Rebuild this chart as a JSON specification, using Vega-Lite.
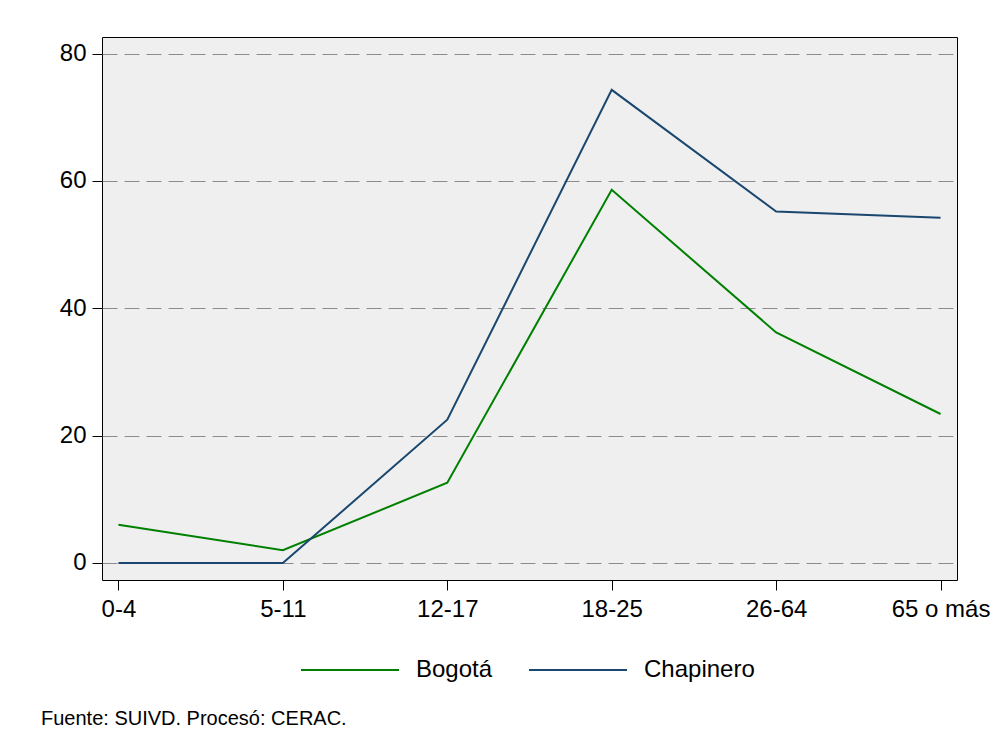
{
  "$schema": "https://vega.github.io/schema/vega-lite/v6.json",
  "autosize": "none",
  "width": 855,
  "height": 543,
  "padding": {"left": 102, "top": 37, "right": 38, "bottom": 169},
  "background": "white",
  "config": {
    "font": "Liberation Sans",
    "view": {"fill": "#efefef", "stroke": "black", "strokeWidth": 1}
  },
  "title": {
    "text": "Fuente: SUIVD. Procesó: CERAC.",
    "orient": "bottom",
    "anchor": "start",
    "frame": "group",
    "dx": -61,
    "offset": 27,
    "fontSize": 20,
    "fontWeight": "normal",
    "color": "black",
    "font": "Liberation Sans"
  },
  "data": {
    "values": [
      {"edad": "0-4", "serie": "Bogotá", "tasa": 6.0},
      {"edad": "5-11", "serie": "Bogotá", "tasa": 2.0},
      {"edad": "12-17", "serie": "Bogotá", "tasa": 12.6},
      {"edad": "18-25", "serie": "Bogotá", "tasa": 58.6},
      {"edad": "26-64", "serie": "Bogotá", "tasa": 36.2},
      {"edad": "65 o más", "serie": "Bogotá", "tasa": 23.4},
      {"edad": "0-4", "serie": "Chapinero", "tasa": 0.0},
      {"edad": "5-11", "serie": "Chapinero", "tasa": 0.0},
      {"edad": "12-17", "serie": "Chapinero", "tasa": 22.5},
      {"edad": "18-25", "serie": "Chapinero", "tasa": 74.3},
      {"edad": "26-64", "serie": "Chapinero", "tasa": 55.2},
      {"edad": "65 o más", "serie": "Chapinero", "tasa": 54.2}
    ]
  },
  "mark": {"type": "line", "strokeWidth": 2},
  "encoding": {
    "x": {
      "field": "edad",
      "type": "ordinal",
      "sort": ["0-4", "5-11", "12-17", "18-25", "26-64", "65 o más"],
      "scale": {"type": "point", "padding": 0.1},
      "axis": {
        "title": null,
        "labelAngle": 0,
        "labelFontSize": 24,
        "labelColor": "black",
        "labelPadding": 7,
        "tickSize": 10,
        "tickColor": "black",
        "domain": false,
        "grid": false
      }
    },
    "y": {
      "field": "tasa",
      "type": "quantitative",
      "scale": {"domain": [-2.67, 82.6], "nice": false, "zero": false},
      "axis": {
        "title": null,
        "values": [0, 20, 40, 60, 80],
        "labelFontSize": 24,
        "labelColor": "black",
        "labelPadding": 6,
        "tickSize": 10,
        "tickColor": "black",
        "domain": false,
        "grid": true,
        "gridColor": "#8c8c8c",
        "gridDash": [15, 7],
        "gridWidth": 1
      }
    },
    "color": {
      "field": "serie",
      "type": "nominal",
      "scale": {"domain": ["Bogotá", "Chapinero"], "range": ["#008000", "#1a476f"]},
      "legend": {
        "title": null,
        "orient": "none",
        "direction": "horizontal",
        "legendX": 198,
        "legendY": 583,
        "symbolType": "stroke",
        "symbolSize": 9604,
        "symbolStrokeWidth": 2,
        "labelFontSize": 24,
        "labelColor": "black",
        "labelOffset": 16,
        "columnPadding": 32
      }
    }
  }
}
